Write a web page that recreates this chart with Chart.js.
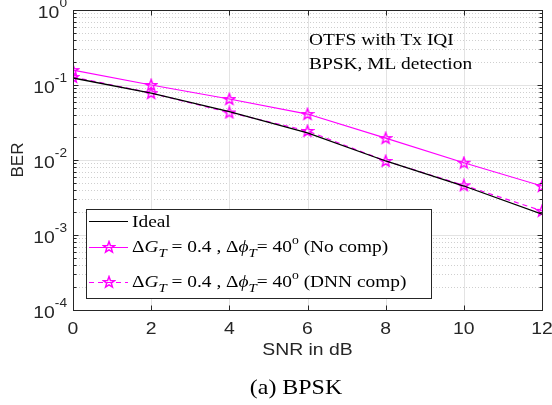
<!DOCTYPE html>
<html>
<head>
<meta charset="utf-8">
<style>
  html, body { margin: 0; padding: 0; background: #fff; }
  #wrap { width: 552px; height: 405px; }
</style>
<script src="https://cdn.jsdelivr.net/npm/chart.js@4.4.1/dist/chart.umd.min.js"></script>
</head>
<body>
<div id="wrap"><canvas id="ber" width="552" height="405"></canvas></div>
<script>
// values
const snrDb = [0, 2, 4, 6, 8, 10, 12];
const berIdeal = [0.124, 0.078, 0.044, 0.023, 0.0097, 0.0045, 0.0019];
const berNoComp = [0.158, 0.100, 0.065, 0.041, 0.0196, 0.0092, 0.0045];
const berDnnComp = [0.128, 0.078, 0.043, 0.0244, 0.0097, 0.0046, 0.0021];

const xTicks = [0, 2, 4, 6, 8, 10, 12];
const yDecades = [-4, -3, -2, -1, 0];
const seriesNames = ['Ideal', 'No comp', 'DNN comp'];

const SX = 1.14; // the original text is slightly wide
const serif = '"Liberation Serif", "Times New Roman", serif';
const sans = '"Liberation Sans", Arial, sans-serif';
const magenta = '#ff00ff';

function starCanvas(color) {
    const c = document.createElement('canvas');
    c.width = 14; c.height = 14;
    const g = c.getContext('2d');
    g.strokeStyle = color;
    g.lineWidth = 1.5;
    g.beginPath();
    for (let i = 0; i < 10; i++) {
        const r = i % 2 ? 2.4 : 5.8;
        const a = -Math.PI / 2 + i * Math.PI / 5;
        const px = 7 + r * Math.cos(a), py = 7.4 + r * Math.sin(a);
        if (i === 0) g.moveTo(px, py); else g.lineTo(px, py);
    }
    g.closePath();
    g.stroke();
    return c;
}
const star = starCanvas(magenta);

function pts(ys) {
    return snrDb.map((x, i) => ({ x: x, y: ys[i] }));
}

// draw text stretched horizontally a little
function txt(ctx, s, x, y, font, align) {
    ctx.save();
    ctx.font = font;
    const w = ctx.measureText(s).width * SX;
    let x0 = x;
    if (align === 'center') x0 = x - w / 2;
    if (align === 'right') x0 = x - w;
    ctx.translate(x0, y);
    ctx.scale(SX, 1);
    ctx.textAlign = 'left';
    ctx.fillText(s, 0, 0);
    ctx.restore();
    return w;
}
function tw(ctx, s, font) {
    ctx.save(); ctx.font = font;
    const w = ctx.measureText(s).width * SX;
    ctx.restore();
    return w;
}

function richLabel(ctx, x, y, tail) {
    const f = '17px ' + serif, fi = 'italic 17px ' + serif, fs = 'italic 13px ' + serif, fo = '12px ' + serif;
    const parts = [
        ['\u0394', f, 0], ['G', fi, 0], ['T', fs, 5], [' = 0.4 , ', f, 0],
        ['\u0394', f, 0], ['\u03d5', fi, 0], ['T', fs, 5], ['= 40', f, 0],
        ['o', fo, -8], [' ' + tail, f, 0]
    ];
    let cx = x;
    parts.forEach(p => {
        cx += txt(ctx, p[0], cx, y + p[2], p[1], 'left');
    });
}

const framePlugin = {
    id: 'frame',
    beforeDatasetsDraw(chart) {
        const ctx = chart.ctx, a = chart.chartArea;
        const xs = chart.scales.x, ys = chart.scales.y;
        ctx.save();
        ctx.lineWidth = 1;
        // minor grid, dotted
        ctx.strokeStyle = '#cfcfcf';
        ctx.setLineDash([1, 2]);
        yDecades.slice(0, -1).forEach(e => {
            for (let m = 2; m <= 9; m++) {
                const py = Math.round(ys.getPixelForValue(m * Math.pow(10, e))) + 0.5;
                ctx.beginPath(); ctx.moveTo(a.left, py); ctx.lineTo(a.right, py); ctx.stroke();
            }
        });
        ctx.setLineDash([]);
        ctx.strokeStyle = '#e3e3e3';
        yDecades.forEach(e => {
            const py = Math.round(ys.getPixelForValue(Math.pow(10, e))) + 0.5;
            ctx.beginPath(); ctx.moveTo(a.left, py); ctx.lineTo(a.right, py); ctx.stroke();
        });
        xTicks.forEach(v => {
            const px = Math.round(xs.getPixelForValue(v)) + 0.5;
            ctx.beginPath(); ctx.moveTo(px, a.top); ctx.lineTo(px, a.bottom); ctx.stroke();
        });
        ctx.restore();
    },
    afterDatasetsDraw(chart) {
        const ctx = chart.ctx, a = chart.chartArea;
        const xs = chart.scales.x, ys = chart.scales.y;
        const L = Math.round(a.left) + 0.5, R = Math.round(a.right) + 0.5;
        const T = Math.round(a.top) + 0.5, B = Math.round(a.bottom) + 0.5;
        ctx.save();
        ctx.strokeStyle = '#262626';
        ctx.lineWidth = 1;
        ctx.strokeRect(L, T, R - L, B - T);
        ctx.beginPath();
        xTicks.forEach(v => {
            const px = Math.round(xs.getPixelForValue(v)) + 0.5;
            ctx.moveTo(px, B); ctx.lineTo(px, B - 5);
            ctx.moveTo(px, T); ctx.lineTo(px, T + 5);
        });
        yDecades.forEach(e => {
            const py = Math.round(ys.getPixelForValue(Math.pow(10, e))) + 0.5;
            ctx.moveTo(L, py); ctx.lineTo(L + 5, py);
            ctx.moveTo(R, py); ctx.lineTo(R - 5, py);
            if (e < 0) {
                for (let m = 2; m <= 9; m++) {
                    const q = Math.round(ys.getPixelForValue(m * Math.pow(10, e))) + 0.5;
                    ctx.moveTo(L, q); ctx.lineTo(L + 3, q);
                    ctx.moveTo(R, q); ctx.lineTo(R - 3, q);
                }
            }
        });
        ctx.stroke();

        // tick labels
        ctx.fillStyle = '#262626';
        ctx.textBaseline = 'middle';
        xTicks.forEach(v => {
            txt(ctx, String(v), xs.getPixelForValue(v), 329, '17px ' + sans, 'center');
        });
        yDecades.forEach(e => {
            const py = ys.getPixelForValue(Math.pow(10, e));
            const sup = String(e);
            const wSup = tw(ctx, sup, '12px ' + sans);
            const right = 67;
            txt(ctx, sup, right - wSup, py - 6, '12px ' + sans, 'left');
            txt(ctx, '10', right - wSup, py + 3, '17px ' + sans, 'right');
        });
        // axis titles
        txt(ctx, 'SNR in dB', (a.left + a.right) / 2, 350, '17px ' + sans, 'center');
        ctx.save();
        ctx.translate(18, 160);
        ctx.rotate(-Math.PI / 2);
        ctx.font = '17px ' + sans;
        ctx.textAlign = 'center';
        ctx.fillText('BER', 0, 0);
        ctx.restore();

        // caption and annotation
        ctx.fillStyle = '#000';
        txt(ctx, '(a) BPSK', 296, 388, '21px ' + serif, 'center');
        ctx.textBaseline = 'alphabetic';
        txt(ctx, 'OTFS with Tx IQI', 309, 45, '17px ' + serif, 'left');
        txt(ctx, 'BPSK, ML detection', 309, 69, '17px ' + serif, 'left');

        // legend
        ctx.fillStyle = '#fff';
        ctx.fillRect(86, 209, 346, 90);
        ctx.strokeStyle = '#262626';
        ctx.strokeRect(86.5, 209.5, 345, 89);
        const rows = [221, 247, 282];
        chart.data.datasets.forEach((ds, i) => {
            const y = rows[i] + 0.5;
            ctx.strokeStyle = ds.borderColor;
            ctx.lineWidth = 1.2;
            ctx.setLineDash(ds.borderDash || []);
            ctx.beginPath(); ctx.moveTo(89, y); ctx.lineTo(128, y); ctx.stroke();
            ctx.setLineDash([]);
            if (ds.pointStyle && ds.pointStyle !== 'line') {
                ctx.drawImage(star, 109 - 7, Math.round(y - 7.4));
            }
            ctx.fillStyle = '#000';
            if (i === 0) {
                txt(ctx, seriesNames[0], 132, y + 5, '17px ' + serif, 'left');
            } else {
                richLabel(ctx, 132, y + 4, '(' + seriesNames[i] + ')');
            }
        });
        ctx.restore();
    }
};

new Chart(document.getElementById('ber'), {
    type: 'line',
    data: {
        datasets: [{
            label: seriesNames[0],
            data: pts(berIdeal),
            borderColor: '#000000',
            borderWidth: 1.3,
            pointRadius: 0,
            pointStyle: 'line',
            tension: 0
        }, {
            label: seriesNames[1],
            data: pts(berNoComp),
            borderColor: magenta,
            borderWidth: 1.2,
            pointStyle: star,
            pointRadius: 6,
            tension: 0
        }, {
            label: seriesNames[2],
            data: pts(berDnnComp),
            borderColor: magenta,
            borderWidth: 1.2,
            borderDash: [5, 4],
            pointStyle: star,
            pointRadius: 6,
            tension: 0
        }]
    },
    options: {
        responsive: false,
        animation: false,
        events: [],
        layout: { padding: { left: 0, right: 10, top: 10, bottom: 0 } },
        scales: {
            x: {
                type: 'linear',
                min: 0,
                max: 12,
                grid: { display: false },
                border: { display: false },
                ticks: { display: false },
                afterFit(scale) { scale.height = 95; }
            },
            y: {
                type: 'logarithmic',
                min: 1e-4,
                max: 1,
                grid: { display: false },
                border: { display: false },
                ticks: { display: false },
                afterFit(scale) { scale.width = 73; }
            }
        },
        plugins: {
            legend: { display: false },
            tooltip: { enabled: false }
        }
    },
    plugins: [framePlugin]
});
</script>
</body>
</html>
